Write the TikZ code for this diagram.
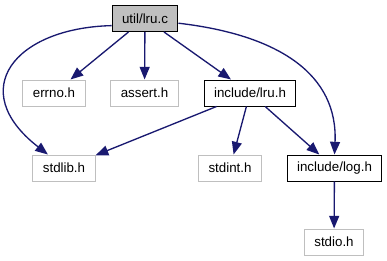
\documentclass[tikz,border=0pt]{standalone}
\usepackage{fontspec}
\setmainfont{Liberation Sans}
\usepackage{tikz}
\usetikzlibrary{arrows.meta}

\definecolor{edgeblue}{HTML}{191970}
\definecolor{sysgray}{HTML}{BFBFBF}

\begin{document}
\begin{tikzpicture}[x=0.75pt, y=-0.75pt, >={Triangle[length=9.5pt, width=7.5pt]},
    file/.style={draw, line width=0.75pt, inner xsep=7.5pt, inner ysep=0pt, minimum height=19.5pt},
    sys/.style={file, draw=sysgray},
    src/.style={file, fill=sysgray},
    dep/.style={->, draw=edgeblue, line width=1pt}]
      \useasboundingbox (0,0) rectangle (387,261);

      \node[src] (lruc) at (145,18.5) {util/lru.c};
      \node[sys] (errno) at (54,93) {errno.h};
      \node[sys] (assert) at (144.5,93) {assert.h};
      \node[file] (lruh) at (250,93) {include/lru.h};
      \node[sys] (stdlib) at (64,168) {stdlib.h};
      \node[sys] (stdint) at (230,168) {stdint.h};
      \node[file] (logh) at (334.5,168) {include/log.h};
      \node[sys] (stdio) at (334,242) {stdio.h};

      \draw[dep] (lruc) -- (errno);
      \draw[dep] (lruc) -- (assert);
      \draw[dep] (lruc) -- (lruh);
      \draw[dep] (lruc.192) .. controls (15,28) and (-35,90) .. (stdlib.140);
      \draw[dep] (lruc.-8) .. controls (280,35) and (338,75) .. (logh.north);
      \draw[dep] (lruh) -- (stdlib);
      \draw[dep] (lruh) -- (stdint);
      \draw[dep] (lruh) -- (logh);
      \draw[dep] (logh) -- (stdio);
    \end{tikzpicture}
\end{document}
